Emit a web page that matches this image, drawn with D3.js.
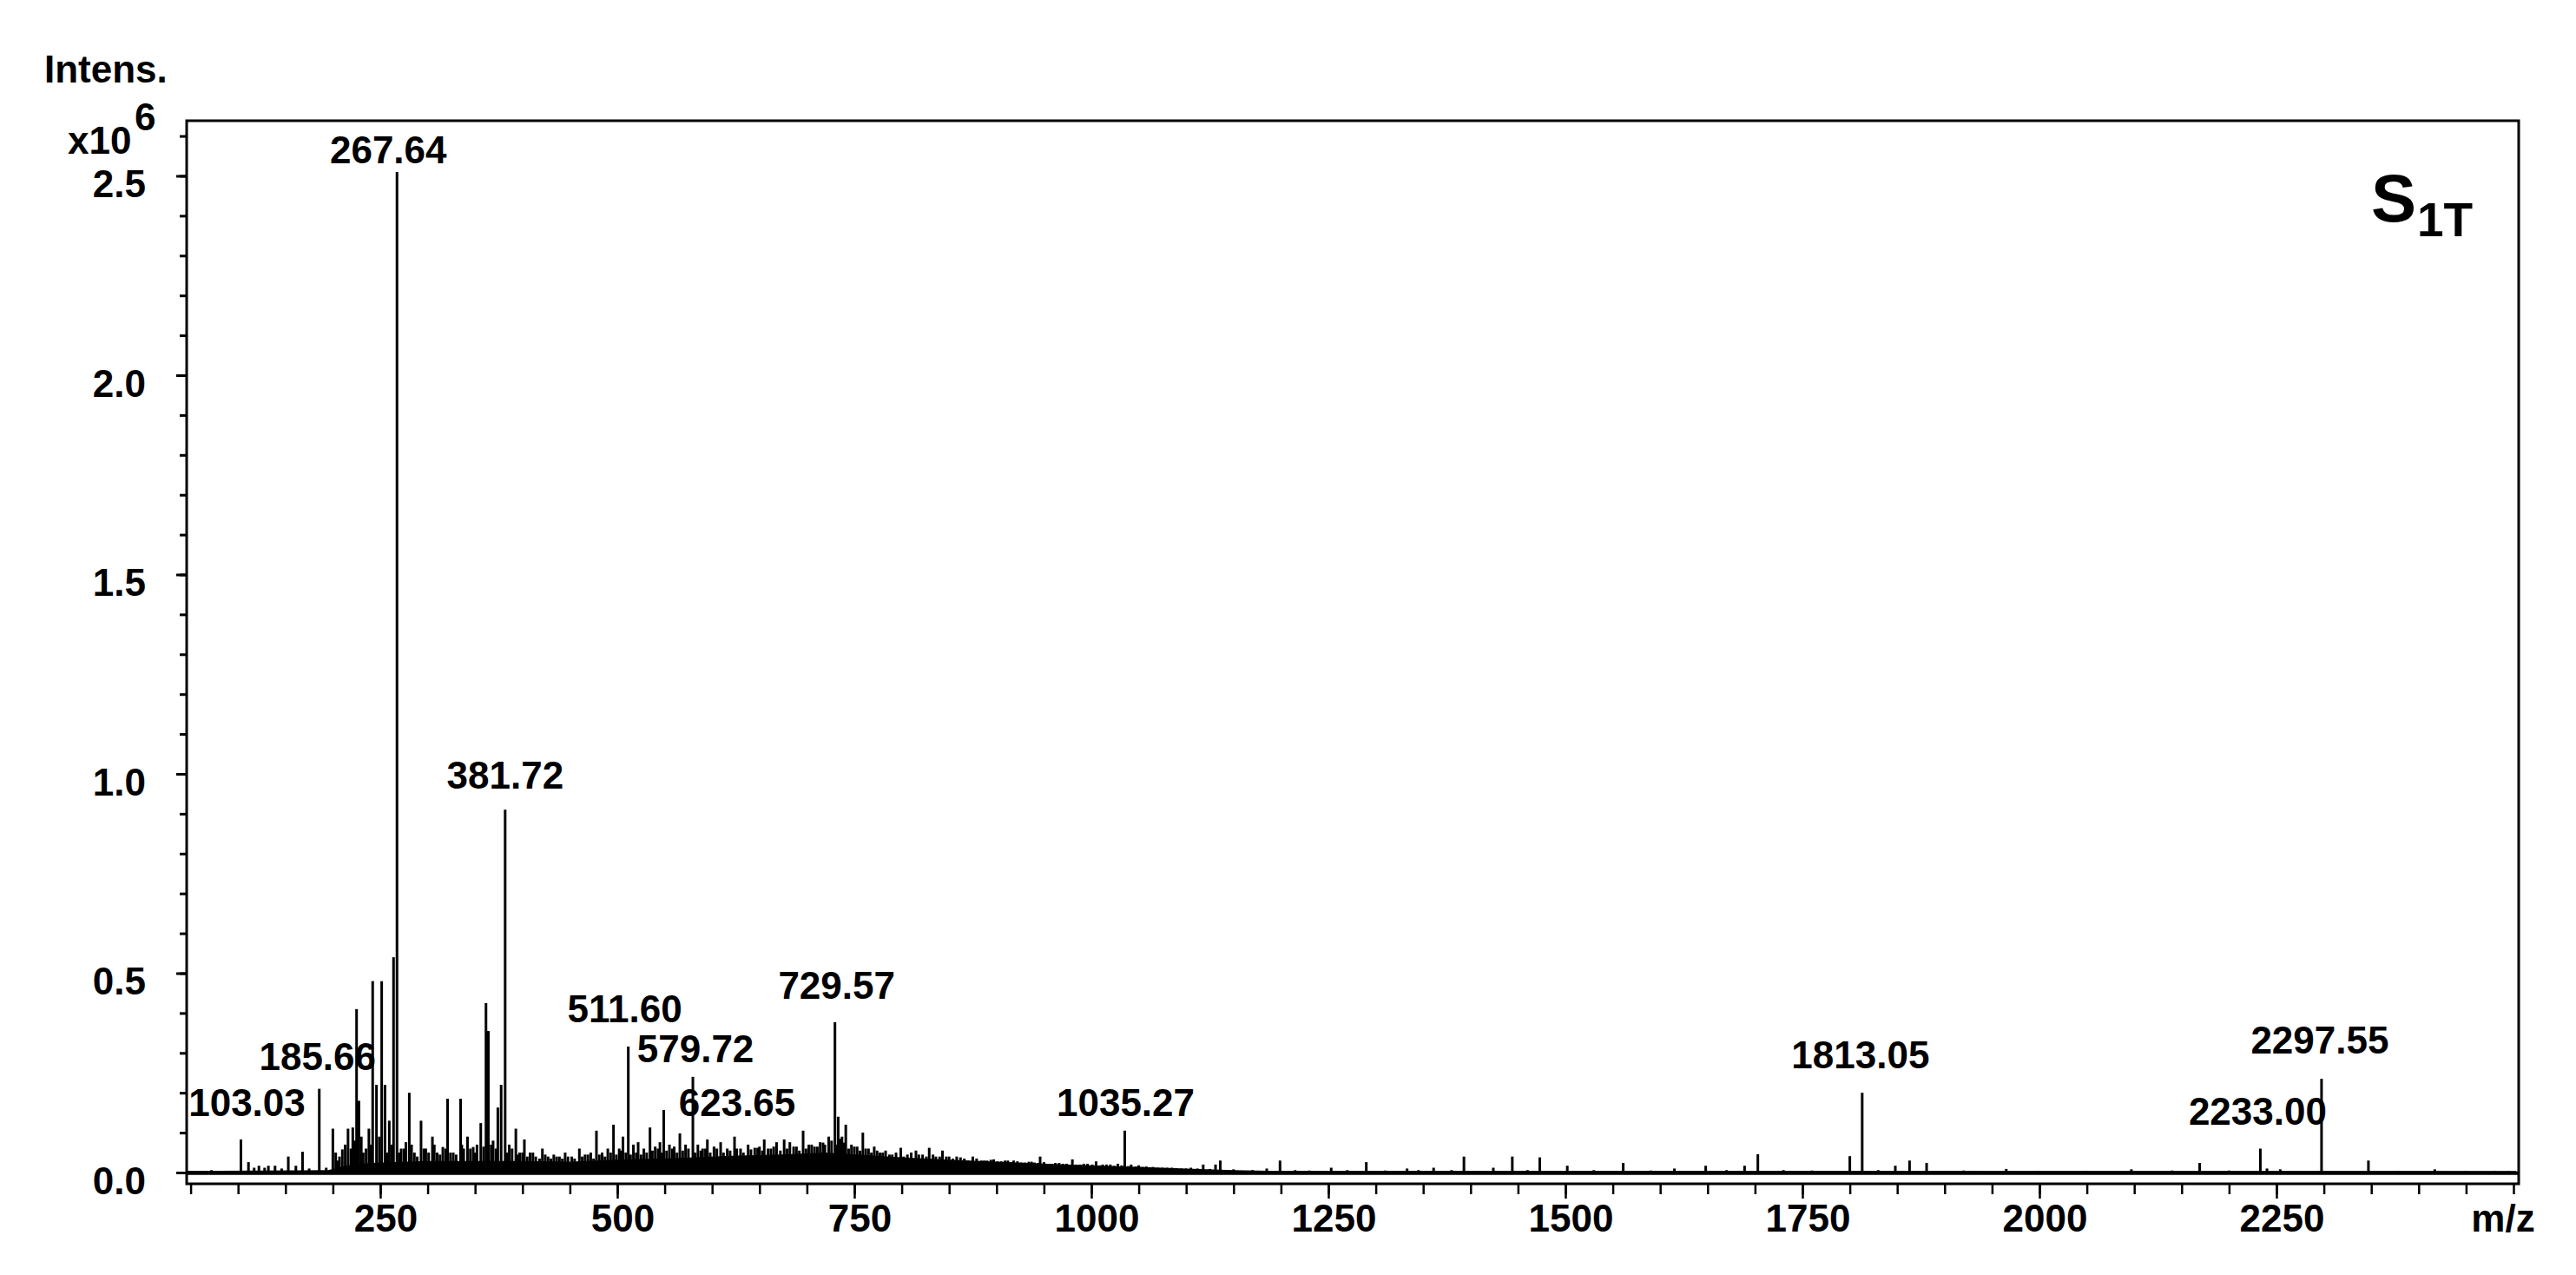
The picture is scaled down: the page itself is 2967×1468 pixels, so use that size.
<!DOCTYPE html>
<html><head><meta charset="utf-8">
<script src="https://cdn.jsdelivr.net/npm/d3@7"></script>
<style>
html,body{margin:0;padding:0;background:#fff;}
svg{display:block;}
text{font-family:"Liberation Sans",Arial,sans-serif;font-weight:bold;fill:#000;}
</style>
</head><body>
<svg id="chart" width="2967" height="1468"></svg>
<script>
// ---- Data (intensity in units of 10^6) ----
const peakMz = [72,103.03,111,117,122,128,132,139,146,153,161,168,175,185.66,193,200,205,210,216,221,225,227.5,232,238,242,246,251.5,255,259.5,264,267.64,272,277,280.6,286,293,298,305,310,316,321,327,334.7,338,342,348,352,356,361.5,364,369,374,377.5,381.72,386,393,397,402,408,414,421,427,433,439,445,452,460,466,472,478,484,490,496,502,506,511.60,517,522,528,534.5,540,545,549,555,560,566,572,579.72,585,590,595,602,609,616,623.65,630,638,645,650,655,662,668,676,682,689,696,702,708,714,719,723,729.57,733,737,741,747,753,759,765,771,777,783,790,799,806,815,822,829,836,843,850,858,866,875,884,890,897,905,912,918,926,934,940,946,955,962,970,980,988,996,1005,1012,1020,1028,1035.27,1042,1050,1058,1065,1075,1085,1095,1105,1118,1131,1136,1150,1170,1185,1199,1215,1230,1253,1270,1290,1310,1333,1345,1361,1380,1393,1424,1444,1460,1473,1502,1530,1561,1590,1615,1648,1670,1689,1703,1730,1760,1800,1813.05,1830,1848,1863,1881,1920,1965,2000,2050,2097,2140,2169,2200,2233.00,2240,2254,2297.55,2347,2380,2417,2450,2480,2495];
const peakInt = [0.006,0.083,0.026,0.012,0.017,0.012,0.017,0.017,0.01,0.04,0.017,0.052,0.01,0.21,0.012,0.11,0.03,0.058,0.11,0.113,0.41,0.18,0.05,0.11,0.48,0.22,0.48,0.22,0.13,0.54,2.51,0.06,0.076,0.20,0.05,0.13,0.06,0.09,0.05,0.064,0.185,0.05,0.185,0.06,0.09,0.064,0.07,0.124,0.425,0.355,0.08,0.163,0.22,0.91,0.07,0.11,0.05,0.083,0.05,0.04,0.06,0.04,0.045,0.04,0.05,0.04,0.06,0.045,0.05,0.105,0.05,0.06,0.12,0.06,0.09,0.316,0.07,0.076,0.06,0.113,0.065,0.076,0.157,0.07,0.065,0.098,0.07,0.24,0.07,0.06,0.083,0.065,0.076,0.06,0.09,0.06,0.07,0.062,0.065,0.083,0.06,0.076,0.083,0.076,0.065,0.105,0.07,0.065,0.076,0.07,0.09,0.377,0.14,0.09,0.12,0.07,0.065,0.10,0.06,0.065,0.05,0.055,0.045,0.062,0.045,0.055,0.045,0.062,0.04,0.055,0.04,0.04,0.035,0.04,0.03,0.03,0.033,0.028,0.03,0.03,0.025,0.027,0.025,0.04,0.022,0.024,0.022,0.033,0.02,0.022,0.028,0.02,0.02,0.022,0.105,0.02,0.018,0.015,0.014,0.012,0.012,0.01,0.012,0.02,0.02,0.03,0.008,0.006,0.01,0.03,0.006,0.005,0.012,0.006,0.026,0.005,0.01,0.006,0.012,0.006,0.04,0.012,0.04,0.006,0.038,0.017,0.006,0.024,0.005,0.01,0.017,0.006,0.017,0.046,0.006,0.005,0.041,0.20,0.006,0.017,0.03,0.024,0.005,0.009,0.004,0.004,0.008,0.005,0.024,0.005,0.06,0.01,0.008,0.235,0.03,0.004,0.008,0.004,0.004,0.004];

// small unlabelled peaks forming the dense hump
const noiseMz = [203,207,213,219,223,230,235,240,249,257,262,270,275,283,289,296,301,307,313,319,324,330,336,345,350,359,367,372,384,389,395,400,405,411,418,424,430,436,442,448,455,463,469,475,481,487,493,499,504,509,514,520,525,531,537,543,547,552,558,563,569,575,582,588,593,598,605,612,619,626,633,641,648,653,659,665,672,679,686,692,699,705,711,717,726,731,735,739,744,750,756,762,768,774,780,787,794,802,810,818,826,833,840,847,854,862,870,879,887,894,901,909,916,922,930,937,944,950,958,966,974,984,992,1001,1009,1016,1024,1032,1039,1047,1054,1062,1070,1080,1090,1100,1112,1125];
const noiseInt = [0.05,0.04,0.07,0.06,0.08,0.09,0.06,0.07,0.09,0.05,0.07,0.05,0.06,0.07,0.04,0.06,0.05,0.07,0.045,0.06,0.05,0.045,0.07,0.06,0.05,0.065,0.07,0.06,0.05,0.06,0.045,0.05,0.04,0.05,0.035,0.045,0.035,0.04,0.035,0.04,0.035,0.04,0.045,0.035,0.045,0.04,0.05,0.045,0.055,0.05,0.045,0.05,0.045,0.05,0.055,0.06,0.05,0.055,0.06,0.05,0.055,0.06,0.05,0.055,0.06,0.05,0.06,0.05,0.055,0.06,0.05,0.058,0.062,0.055,0.06,0.065,0.055,0.06,0.065,0.055,0.06,0.07,0.065,0.075,0.08,0.07,0.085,0.075,0.06,0.065,0.055,0.06,0.05,0.055,0.05,0.045,0.05,0.04,0.05,0.045,0.04,0.045,0.04,0.04,0.035,0.038,0.03,0.035,0.03,0.032,0.028,0.03,0.026,0.028,0.025,0.027,0.024,0.026,0.022,0.024,0.022,0.02,0.022,0.02,0.018,0.02,0.017,0.018,0.016,0.015,0.014,0.013,0.012,0.012,0.011,0.01,0.01,0.009];

// dense noise envelope (top of the dark band)
const envMz  = [46,195,205,215,240,300,400,450,500,560,620,680,720,760,800,850,900,960,1000,1050,1100,1150,1200,2505];
const envInt = [0.004,0.006,0.012,0.018,0.024,0.029,0.029,0.027,0.032,0.036,0.042,0.046,0.05,0.044,0.038,0.032,0.027,0.021,0.018,0.014,0.01,0.006,0.004,0.003];

// labelled peaks
const labelNames = ["103.03","185.66","267.64","381.72","511.60","579.72","623.65","729.57","1035.27","1813.05","2233.00","2297.55"];
// label layout tweaks (px): horizontal shift, gap above peak top
const labelDx  = [7,-2,-10,0,-4,3,3,2,1,-2,-3,-2];
const labelGap = [27,22,10,24,28,17,24,27,17,28,27,29];

const yMajor = [0,0.5,1.0,1.5,2.0,2.5];
const xMajor = [250,500,750,1000,1250,1500,1750,2000,2250];

// ---- Layout ----
const svg = d3.select("#chart");
const L = 215, R = 2901, T = 139, B = 1363;
const x = d3.scaleLinear().domain([45.8, 2505.5]).range([L, R]);
const y = d3.scaleLinear().domain([-0.0283, 2.6383]).range([B, T]);
const FS = 44;

// envelope band
const env = envMz.map((m,i)=>[m, envInt[i]]);
svg.append("path")
  .datum(env)
  .attr("d", d3.area().x(d=>x(d[0])).y0(y(-0.006)).y1(d=>y(d[1])))
  .attr("fill","#000");

// small peaks
const noise = noiseMz.map((m,i)=>({mz:m, v:noiseInt[i]}));
svg.append("g").selectAll("line").data(noise).join("line")
  .attr("x1", d=>x(d.mz)).attr("x2", d=>x(d.mz))
  .attr("y1", y(0)).attr("y2", d=>y(d.v))
  .attr("stroke","#000").attr("stroke-width",3);

// peaks
const peaks = peakMz.map((m,i)=>({mz:m, v:peakInt[i]}));
svg.append("g").selectAll("line").data(peaks).join("line")
  .attr("x1", d=>x(d.mz)).attr("x2", d=>x(d.mz))
  .attr("y1", y(0)).attr("y2", d=>y(d.v))
  .attr("stroke","#000").attr("stroke-width",3);

// baseline
svg.append("line").attr("x1",L).attr("x2",x(2503)).attr("y1",y(0)).attr("y2",y(0))
  .attr("stroke","#000").attr("stroke-width",3.5);

// frame
svg.append("rect").attr("x",L).attr("y",T).attr("width",R-L).attr("height",B-T)
  .attr("fill","none").attr("stroke","#000").attr("stroke-width",3);

// x axis
const gxMinor = svg.append("g").attr("transform",`translate(0,${B})`)
  .call(d3.axisBottom(x).tickValues(d3.range(50,2501,50)).tickSize(12).tickFormat(""));
const gxMajor = svg.append("g").attr("transform",`translate(0,${B})`)
  .call(d3.axisBottom(x).tickValues(xMajor).tickSize(17).tickPadding(7).tickFormat(d3.format("d")));
[gxMinor,gxMajor].forEach(g=>{
  g.select(".domain").remove();
  g.selectAll(".tick line").attr("stroke","#000").attr("stroke-width",2.5);
});
gxMajor.selectAll(".tick text").attr("font-size",FS).attr("dx",6)
  .style("font-family",'"Liberation Sans",Arial,sans-serif').style("font-weight","bold");

// y axis
const gyMinor = svg.append("g").attr("transform",`translate(${L},0)`)
  .call(d3.axisLeft(y).tickValues(d3.range(0,26).map(i=>(i+1)/10)).tickSize(8).tickFormat(""));
const gyMajor = svg.append("g").attr("transform",`translate(${L},0)`)
  .call(d3.axisLeft(y).tickValues(yMajor).tickSize(12).tickPadding(35).tickFormat(d3.format(".1f")));
[gyMinor,gyMajor].forEach(g=>{
  g.select(".domain").remove();
  g.selectAll(".tick line").attr("stroke","#000").attr("stroke-width",3);
});
gyMajor.selectAll(".tick text").attr("font-size",FS).attr("dy","0.55em")
  .style("font-family",'"Liberation Sans",Arial,sans-serif').style("font-weight","bold");

// axis titles
svg.append("text").attr("x",51).attr("y",95).attr("font-size",FS).text("Intens.");
svg.append("text").attr("x",78).attr("y",177).attr("font-size",FS).text("x10");
svg.append("text").attr("x",155).attr("y",150).attr("font-size",FS).text("6");
svg.append("text").attr("x",2883).attr("y",1418).attr("text-anchor","middle").attr("font-size",FS).text("m/z");

// sample label
svg.append("text").attr("x",2731).attr("y",255).attr("font-size",78).text("S");
svg.append("text").attr("x",2784).attr("y",272).attr("font-size",55).text("1T");

// peak labels
labelNames.forEach((name,i)=>{
  const m = +name;
  const p = peaks.find(d=>d.mz===m);
  svg.append("text")
    .attr("x", x(m)+labelDx[i])
    .attr("y", y(p.v)-labelGap[i])
    .attr("text-anchor","middle").attr("font-size",FS)
    .text(name);
});
</script>
</body></html>
